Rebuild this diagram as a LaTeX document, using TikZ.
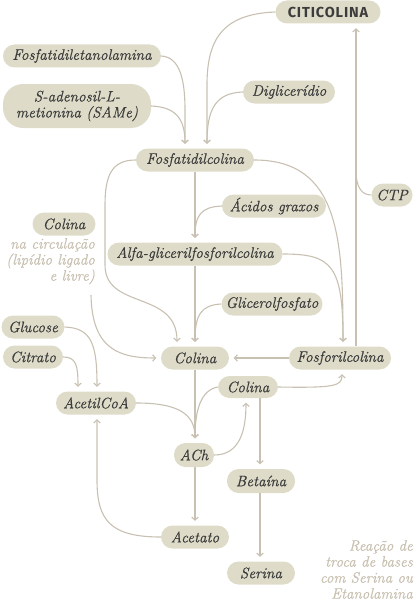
\documentclass[tikz,border=0pt]{standalone}
\usepackage{fontspec}
\newfontfamily\titlefont{Fira Sans}[LetterSpace=6]
\newfontfamily\boxfont{Latin Modern Roman}[ItalicFeatures={FakeBold=0.6}]
\usetikzlibrary{arrows.meta}
\definecolor{boxfill}{RGB}{222,220,200}
\definecolor{linec}{RGB}{200,193,178}
\definecolor{txt}{RGB}{60,60,60}
\definecolor{notec}{RGB}{200,192,176}
\tikzset{
  box/.style={fill=boxfill, rounded corners=11.5pt, minimum height=23pt, inner sep=0pt, text=txt, font=\boxfont\itshape\fontsize{15.2}{16}\selectfont},
  titlebox/.style={box, font=\titlefont\bfseries\fontsize{14.5}{16}\selectfont},
  notetext/.style={inner sep=0pt, text=notec, align=right, font=\boxfont\itshape\fontsize{15}{16}\selectfont},
  conn/.style={draw=linec, line width=1.1pt},
  link/.style={conn, -{Straight Barb[length=3pt,width=6.5pt]}, shorten >=4.5pt},
}
\begin{document}
\begin{tikzpicture}[x=1pt,y=-1pt]
\useasboundingbox (0,0) rectangle (414,602);
% nodes
\node[titlebox, minimum width=105pt] (citi) at (328,12) {CITICOLINA};
\node[box, minimum width=158pt] (fe) at (82,56) {Fosfatidiletanolamina};
\node[box, minimum width=148pt, minimum height=44pt, rounded corners=20pt, align=center] (same) at (77,106) {S-adenosil-L-\\metionina (SAMe)};
\node[box, minimum width=92pt] (dig) at (289,92) {Diglicerídio};
\node[box, minimum width=118pt] (fc) at (195,160) {Fosfatidilcolina};
\node[box, minimum width=41pt] (ctp) at (392,195) {CTP};
\node[box, minimum width=104pt] (ag) at (274,206) {Ácidos graxos};
\node[box, minimum width=63pt] (colt) at (64,224) {Colina};
\node[notetext, anchor=north east] (circ) at (95,238) {na circulação\\(lipídio ligado\\e livre)};
\node[box, minimum width=175pt] (alfa) at (195,254) {Alfa-glicerilfosforilcolina};
\node[box, minimum width=101pt] (glicf) at (272,304) {Glicerolfosfato};
\node[box, minimum width=63pt] (glu) at (33,327) {Glucose};
\node[box, minimum width=60pt] (cit) at (33,357) {Citrato};
\node[box, minimum width=68pt] (colc) at (195,358) {Colina};
\node[box, minimum width=102pt] (fosf) at (340,358) {Fosforilcolina};
\node[box, minimum width=60pt, minimum height=22pt] (cols) at (248,387) {Colina};
\node[box, minimum width=80pt] (acoa) at (96,403) {AcetilCoA};
\node[box, minimum width=40pt, minimum height=24pt] (ach) at (194,455) {ACh};
\node[box, minimum width=68pt, minimum height=24pt] (bet) at (261,481) {Betaína};
\node[box, minimum width=68pt] (acet) at (195,537) {Acetato};
\node[box, minimum width=68pt] (ser) at (261,573) {Serina};
\node[notetext, anchor=north east] (reac) at (413,540) {Reação de\\troca de bases\\com Serina ou\\Etanolamina};
\coordinate (cstart) at (91,295);
% connectors into Fosfatidilcolina
\draw[link] (fe.east) .. controls (180,57) and (185,80) .. (185,110) -- ([xshift=-10pt]fc.north);
\draw[link] (same.east) .. controls (175,107) and (185,118) .. ([xshift=-10pt]fc.north);
\draw[link] (citi.west) .. controls (222,14) and (207,40) .. (207,85) -- ([xshift=12pt]fc.north);
\draw[link] (dig.west) .. controls (215,93) and (207,110) .. ([xshift=12pt]fc.north);
% CTP / Fosforilcolina to Citicolina
\draw[link] ([xshift=16pt]fosf.north) -- ([xshift=28pt]citi.south);
\draw[conn] (ctp.west) .. controls (362,195) and (356,188) .. (356,170);
% from Fosfatidilcolina
\draw[link] (fc.west) .. controls (112,160) and (105,175) .. (105,205) -- (105,265) .. controls (105,310) and (177,290) .. ([xshift=-18pt]colc.north);
\draw[link] (fc.south) -- (alfa.north);
\draw[link] (ag.west) .. controls (201,207) and (195,215) .. (alfa.north);
\draw[link] (fc.east) .. controls (340,160) and (343,240) .. ([xshift=3pt]fosf.north);
\draw[link] (alfa.east) .. controls (332,254) and (343,265) .. ([xshift=3pt]fosf.north);
\draw[link] (alfa.south) -- (colc.north);
\draw[link] (glicf.west) .. controls (201,305) and (195,315) .. (colc.north);
\draw[link] (cstart) .. controls (92,350) and (120,358) .. (colc.west);
\draw[link] (fosf.west) -- (colc.east);
% AcetilCoA
\draw[link] (glu.east) .. controls (92,328) and (97,345) .. ([xshift=1pt]acoa.north);
\draw[link] (cit.east) .. controls (76,357) and (78,365) .. ([xshift=-18pt]acoa.north);
\draw[link] (acoa.east) .. controls (180,403) and (195,415) .. ([xshift=1pt]ach.north);
\draw[link] (colc.south) -- ([xshift=1pt]ach.north);
\draw[link] (cols.west) .. controls (201,390) and (195,410) .. ([xshift=1pt]ach.north);
\draw[link] (ach.east) .. controls (240,455) and (246,430) .. ([xshift=-2pt]cols.south);
\draw[link] (cols.east) .. controls (335,388) and (342,386) .. ([xshift=2pt]fosf.south);
\draw[link] ([xshift=12pt]cols.south) -- ([xshift=-1pt]bet.north);
\draw[link] ([xshift=1pt]ach.south) -- (acet.north);
\draw[link] (acet.west) .. controls (110,537) and (97,520) .. (97,480) -- ([xshift=1pt]acoa.south);
\draw[link] ([xshift=-1pt]bet.south) -- ([xshift=-1pt]ser.north);
\end{tikzpicture}
\end{document}
